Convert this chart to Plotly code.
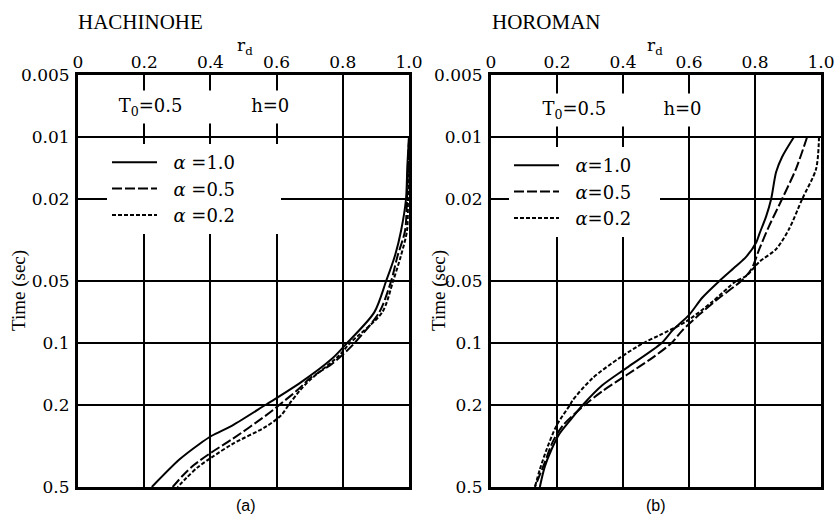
import math
import plotly.graph_objects as go

# ---------------- data ----------------
x_ticks = [0, 0.2, 0.4, 0.6, 0.8, 1.0]
x_ticktext = ["0", "0.2", "0.4", "0.6", "0.8", "1.0"]
t_ticks = [0.005, 0.01, 0.02, 0.05, 0.1, 0.2, 0.5]
t_ticktext = ["0.005", "0.01", "0.02", "0.05", "0.1", "0.2", "0.5"]

# (a) HACHINOHE
a_rd_10 = [1.0, 0.995, 0.991, 0.976, 0.958, 0.931, 0.895, 0.813, 0.768, 0.669, 0.566, 0.467, 0.404, 0.367, 0.307, 0.223]
a_t_10 = [0.01, 0.0138, 0.02, 0.0285, 0.0375, 0.05, 0.071, 0.1, 0.119, 0.157, 0.2, 0.251, 0.282, 0.309, 0.367, 0.5]

a_rd_05 = [1.0, 0.994, 0.988, 0.965, 0.946, 0.910, 0.828, 0.768, 0.699, 0.669, 0.608, 0.569, 0.467, 0.404, 0.352, 0.316, 0.286]
a_t_05 = [0.01, 0.02, 0.0285, 0.038, 0.05, 0.071, 0.103, 0.126, 0.149, 0.166, 0.2, 0.224, 0.292, 0.339, 0.389, 0.441, 0.5]

a_rd_02 = [1.0, 0.997, 0.994, 0.975, 0.952, 0.919, 0.822, 0.789, 0.699, 0.669, 0.639, 0.614, 0.569, 0.467, 0.404, 0.361, 0.328, 0.301]
a_t_02 = [0.01, 0.02, 0.0285, 0.038, 0.05, 0.071, 0.1, 0.115, 0.152, 0.171, 0.197, 0.224, 0.254, 0.309, 0.359, 0.402, 0.451, 0.5]

# (b) HOROMAN
b_rd_10 = [0.918, 0.882, 0.864, 0.849, 0.834, 0.813, 0.804, 0.773, 0.743, 0.692, 0.640, 0.601, 0.550, 0.517, 0.411, 0.338, 0.278, 0.239, 0.208, 0.184, 0.163, 0.148]
b_t_10 = [0.01, 0.0125, 0.0148, 0.02, 0.0242, 0.0296, 0.0324, 0.0382, 0.0423, 0.05, 0.0603, 0.0728, 0.0868, 0.1, 0.132, 0.160, 0.2, 0.238, 0.275, 0.327, 0.398, 0.5]

b_rd_05 = [0.958, 0.924, 0.882, 0.843, 0.813, 0.789, 0.758, 0.692, 0.631, 0.580, 0.547, 0.489, 0.411, 0.338, 0.284, 0.218, 0.187, 0.163, 0.133]
b_t_05 = [0.01, 0.0143, 0.02, 0.027, 0.035, 0.0438, 0.05, 0.0603, 0.0728, 0.0868, 0.1, 0.118, 0.143, 0.171, 0.2, 0.251, 0.302, 0.380, 0.5]

b_rd_02 = [0.994, 0.985, 0.943, 0.903, 0.864, 0.813, 0.773, 0.743, 0.671, 0.592, 0.511, 0.462, 0.390, 0.308, 0.248, 0.239, 0.199, 0.169, 0.148, 0.133]
b_t_02 = [0.01, 0.0143, 0.02, 0.028, 0.035, 0.0404, 0.0473, 0.05, 0.063, 0.0785, 0.0916, 0.1, 0.118, 0.148, 0.189, 0.2, 0.251, 0.327, 0.411, 0.5]

names_a = ["<i>α</i> =1.0", "<i>α</i> =0.5", "<i>α</i> =0.2"]
names_b = ["<i>α</i>=1.0", "<i>α</i>=0.5", "<i>α</i>=0.2"]

# ---------------- styles ----------------
W, H = 836, 516
SERIF = "DejaVu Serif"
TIMES = "Liberation Serif"
dashes = ["solid", "10px,3px", "4px,2px"]
NB = "\u00a0"


def px_x(p):
    return p / W


def px_y(p):
    return 1 - p / H


fig = go.Figure()

series_a = [(a_rd_10, a_t_10), (a_rd_05, a_t_05), (a_rd_02, a_t_02)]
series_b = [(b_rd_10, b_t_10), (b_rd_05, b_t_05), (b_rd_02, b_t_02)]

for (xs, ts), nm, d in zip(series_a, names_a, dashes):
    fig.add_trace(go.Scatter(x=xs, y=ts, mode="lines", name=NB * 2 + nm + NB * 7,
                             line=dict(color="black", width=2, dash=d, shape="spline", smoothing=0.8),
                             xaxis="x", yaxis="y", legend="legend"))
for (xs, ts), nm, d in zip(series_b, names_b, dashes):
    fig.add_trace(go.Scatter(x=xs, y=ts, mode="lines", name=NB * 2 + nm + NB * 4,
                             line=dict(color="black", width=2, dash=d, shape="spline", smoothing=0.8),
                             xaxis="x2", yaxis="y2", legend="legend2"))

ydom = [px_y(487), px_y(75)]
xa = dict(range=[0, 1], side="top", tickvals=x_ticks, ticktext=x_ticktext,
          showgrid=True, gridcolor="black", gridwidth=2, zeroline=False,
          showline=True, mirror=True, linecolor="black", linewidth=3,
          ticks="", ticklabelstandoff=-3,
          tickfont=dict(family=SERIF, size=17, color="black"), automargin=False)
ya = dict(type="log", range=[math.log10(0.5), math.log10(0.005)],
          tickvals=t_ticks, ticktext=t_ticktext,
          showgrid=True, gridcolor="black", gridwidth=2, zeroline=False,
          showline=True, mirror=True, linecolor="black", linewidth=3,
          ticks="outside", ticklen=2, tickcolor="rgba(0,0,0,0)",
          tickfont=dict(family=SERIF, size=17, color="black"), automargin=False)

leg_common = dict(xanchor="left", yanchor="top", bgcolor="white", borderwidth=0,
                  itemwidth=45, font=dict(family=SERIF, size=18, color="black"),
                  tracegroupgap=0)

fig.update_layout(
    width=W, height=H, margin=dict(l=0, r=0, t=0, b=0),
    paper_bgcolor="white", plot_bgcolor="white", template="none",
    xaxis=dict(xa, domain=[px_x(78), px_x(409)], anchor="y"),
    yaxis=dict(ya, domain=ydom, anchor="x"),
    xaxis2=dict(xa, domain=[px_x(491), px_x(821)], anchor="y2"),
    yaxis2=dict(ya, domain=ydom, anchor="x2"),
    legend=dict(leg_common, x=px_x(107), y=px_y(144)),
    legend2=dict(leg_common, x=px_x(509), y=px_y(147)),
    showlegend=True,
)


def note(text, cx, cy, **kw):
    d = dict(text=text, x=px_x(cx), y=px_y(cy), xref="paper", yref="paper",
             xanchor="center", yanchor="middle", showarrow=False)
    d.update(kw)
    return d


ann = []
ann.append(note("HACHINOHE", 140, 22, font=dict(family=TIMES, size=21, color="black")))
ann.append(note("HOROMAN", 546, 22, font=dict(family=TIMES, size=21, color="black")))
for cx in (245, 655):
    ann.append(note("r<sub>d</sub>", cx, 47, font=dict(family=SERIF, size=17, color="black")))
# parameter text (white box hides the grid behind it, as in the original)
ann.append(note("T<sub>0</sub>=0.5" + NB * 12 + "h=0", 204, 107, bgcolor="white",
                width=200, height=30, font=dict(family=SERIF, size=18, color="black")))
ann.append(note("T<sub>0</sub>=0.5" + NB * 10 + "h=0", 622, 110, bgcolor="white",
                width=190, height=30, font=dict(family=SERIF, size=18, color="black")))
for cx in (19, 439):
    ann.append(note("Time (sec)", cx, 291, textangle=-90,
                    font=dict(family=TIMES, size=19, color="black")))
ann.append(note("(a)", 246, 505, font=dict(family="Liberation Sans", size=16, color="black")))
ann.append(note("(b)", 656, 505, font=dict(family="Liberation Sans", size=16, color="black")))
fig.update_layout(annotations=ann)

fig.write_html("out.html")
